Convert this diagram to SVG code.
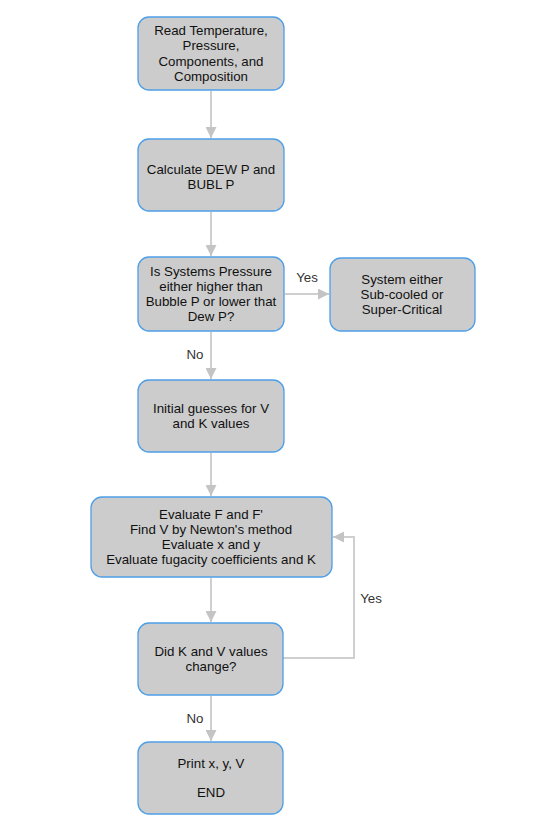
<svg xmlns="http://www.w3.org/2000/svg" width="535" height="827" viewBox="0 0 535 827">
<style>
.box{fill:#cccccc;stroke:#4d9fe8;stroke-width:1.3}
.t{font-family:"Liberation Sans",Arial,sans-serif;font-size:13.3px;fill:#111;text-anchor:middle}
.l{font-family:"Liberation Sans",Arial,sans-serif;font-size:13.3px;fill:#333;text-anchor:middle}
.c{fill:none;stroke:#cfcfcf;stroke-width:2}
</style>
<defs>
<marker id="ah" viewBox="0 0 10 10" refX="10" refY="5" markerWidth="5.5" markerHeight="5.5" orient="auto" markerUnits="strokeWidth">
<path d="M0,0 L10,5 L0,10 Z" fill="#c4c4c4"/>
</marker>
</defs>
<rect width="535" height="827" fill="#ffffff"/>
<g id="connectors">
<path class="c" d="M211,91 V138" marker-end="url(#ah)"/>
<path class="c" d="M211,212 V256" marker-end="url(#ah)"/>
<path class="c" d="M285,294 H329" marker-end="url(#ah)"/>
<path class="c" d="M211,332 V379" marker-end="url(#ah)"/>
<path class="c" d="M211,453 V496" marker-end="url(#ah)"/>
<path class="c" d="M211,578 V622" marker-end="url(#ah)"/>
<path class="c" d="M283,658 H354 V537 H333" marker-end="url(#ah)"/>
<path class="c" d="M211,696 V741" marker-end="url(#ah)"/>
<text class="l" x="307" y="282">Yes</text>
<text class="l" x="195" y="359">No</text>
<text class="l" x="371" y="603">Yes</text>
<text class="l" x="195" y="723">No</text>
</g>
<g id="n1">
<rect class="box" x="138" y="17" width="146" height="73" rx="11"/>
<text class="t" x="211" y="35">Read Temperature,</text>
<text class="t" x="211" y="50">Pressure,</text>
<text class="t" x="211" y="66">Components, and</text>
<text class="t" x="211" y="81">Composition</text>
</g>
<g id="n2">
<rect class="box" x="138" y="139" width="146" height="72" rx="11"/>
<text class="t" x="211" y="174">Calculate DEW P and</text>
<text class="t" x="211" y="189">BUBL P</text>
</g>
<g id="n3">
<rect class="box" x="138" y="257" width="146" height="74" rx="11"/>
<text class="t" x="211" y="276">Is Systems Pressure</text>
<text class="t" x="211" y="291">either higher than</text>
<text class="t" x="211" y="306">Bubble P or lower that</text>
<text class="t" x="211" y="321">Dew P?</text>
</g>
<g id="n4">
<rect class="box" x="330" y="258" width="145" height="73" rx="11"/>
<text class="t" x="402" y="284">System either</text>
<text class="t" x="402" y="299">Sub-cooled or</text>
<text class="t" x="402" y="314">Super-Critical</text>
</g>
<g id="n5">
<rect class="box" x="138" y="380" width="146" height="72" rx="11"/>
<text class="t" x="211" y="413">Initial guesses for V</text>
<text class="t" x="211" y="428">and K values</text>
</g>
<g id="n6">
<rect class="box" x="91" y="497" width="241" height="80" rx="11"/>
<text class="t" x="211" y="519">Evaluate F and F'</text>
<text class="t" x="211" y="534">Find V by Newton's method</text>
<text class="t" x="211" y="549">Evaluate x and y</text>
<text class="t" x="211" y="564">Evaluate fugacity coefficients and K</text>
</g>
<g id="n7">
<rect class="box" x="138" y="623" width="145" height="72" rx="11"/>
<text class="t" x="211" y="656">Did K and V values</text>
<text class="t" x="211" y="671">change?</text>
</g>
<g id="n8">
<rect class="box" x="138" y="742" width="145" height="72" rx="11"/>
<text class="t" x="211" y="768">Print x, y, V</text>
<text class="t" x="211" y="797">END</text>
</g>
</svg>
